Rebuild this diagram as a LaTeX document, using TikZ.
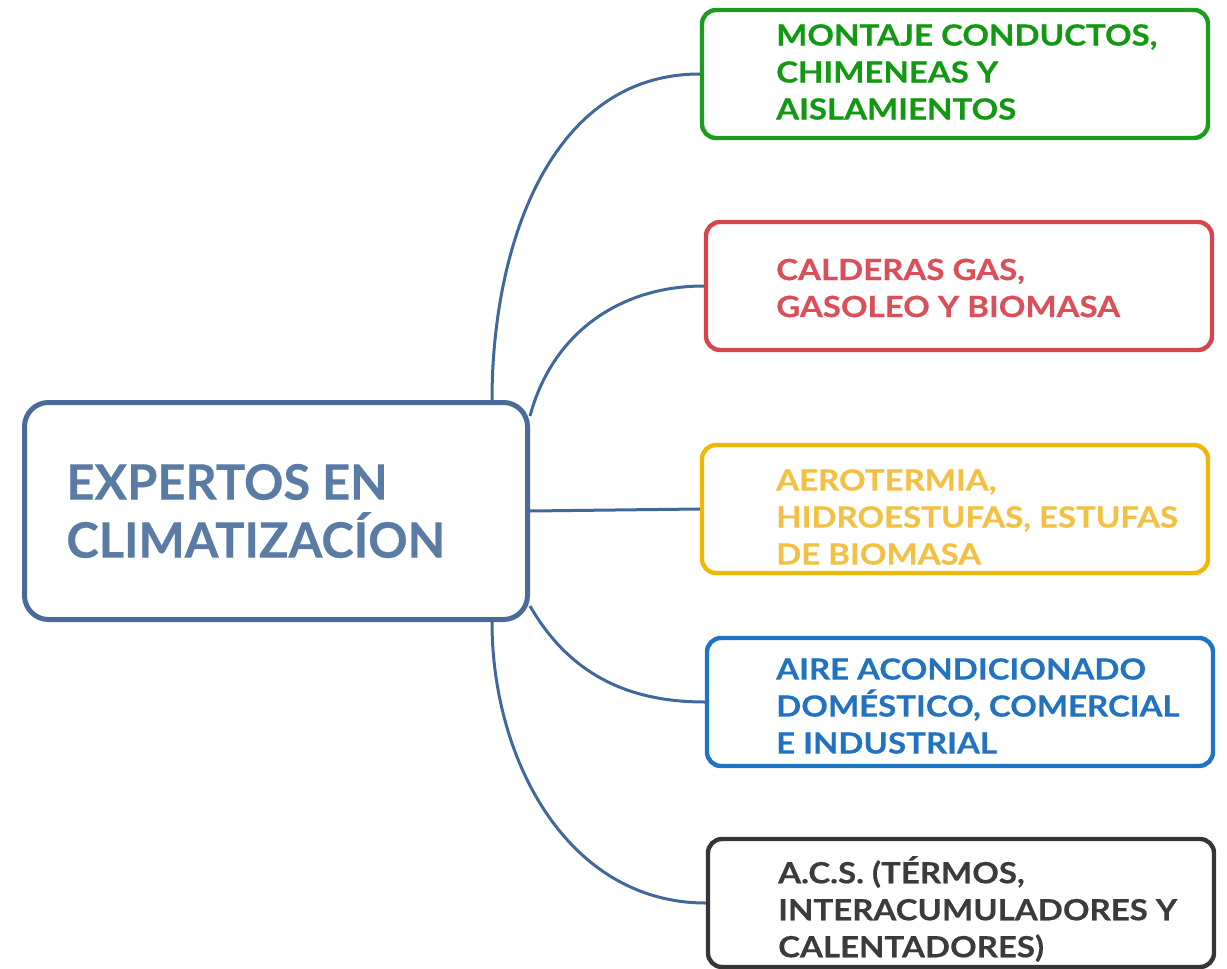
\documentclass[tikz,border=0pt]{standalone}
\usepackage{fontspec}
\setmainfont{Lato}[FakeBold=0.4]
\newfontfamily\cajafont{Lato}[FakeStretch=1.13, FakeBold=0.4]
\usetikzlibrary{positioning}

\definecolor{bordecentro}{HTML}{4A6A98}
\definecolor{textocentro}{HTML}{5A7BA3}
\definecolor{azulrama}{HTML}{41689A}
\definecolor{verdeB}{HTML}{1C9C1C}
\definecolor{verdeT}{HTML}{119911}
\definecolor{rojoB}{HTML}{D6454E}
\definecolor{rojoT}{HTML}{D9505A}
\definecolor{amarilloB}{HTML}{F2B705}
\definecolor{amarilloT}{HTML}{F2C043}
\definecolor{azulB}{HTML}{1C74C4}
\definecolor{azulT}{HTML}{2272C0}
\definecolor{negroB}{HTML}{363636}
\definecolor{negroT}{HTML}{3C3A3B}

\begin{document}
\begin{tikzpicture}[
    x=0.5pt, y=-0.5pt,
    centro/.style={rectangle, draw=bordecentro, line width=2.5pt, rounded corners=12pt, minimum width=251.5pt, minimum height=108.5pt},
    caja/.style={rectangle, line width=2.2pt, rounded corners=7pt, minimum width=253pt, minimum height=64pt},
    texto/.style={inner sep=0pt, align=left, font=\cajafont\fontsize{14.6}{18.5}\selectfont\bfseries},
    rama/.style={draw=azulrama, line width=1.5pt}
]
    \useasboundingbox (0,0) rectangle (1227,969);

    % Central node
    \node[centro] (expertos) at (276,511) {};
    \node[inner sep=0pt, align=left, text=textocentro, font=\fontsize{24.4}{29}\selectfont\bfseries,
          right=22pt of expertos.west] (titulo) {EXPERTOS EN\\CLIMATIZACÍON};

    % Service boxes
    \node[caja, draw=verdeB] (montaje) at (955,74) {};
    \node[caja, draw=rojoB] (calderas) at (959,286) {};
    \node[caja, draw=amarilloB] (aerotermia) at (955,509) {};
    \node[caja, draw=azulB] (aire) at (960,702) {};
    \node[caja, draw=negroB] (acs) at (961,903) {};

    % Box texts
    \node[texto, text=verdeT, right=38pt of montaje.west, yshift=1pt] (tmontaje) {MONTAJE CONDUCTOS,\\CHIMENEAS Y\\AISLAMIENTOS};
    \node[texto, text=rojoT, right=36pt of calderas.west, yshift=-1pt] (tcalderas) {CALDERAS GAS,\\GASOLEO Y BIOMASA};
    \node[texto, text=amarilloT, right=38pt of aerotermia.west, yshift=-4pt] (taerotermia) {AEROTERMIA,\\HIDROESTUFAS, ESTUFAS\\DE BIOMASA};
    \node[texto, text=azulT, right=35.5pt of aire.west, yshift=-2pt] (taire) {AIRE ACONDICIONADO\\DOMÉSTICO, COMERCIAL\\E INDUSTRIAL};
    \node[texto, text=negroT, right=36pt of acs.west, yshift=-3pt] (tacs) {A.C.S. (TÉRMOS,\\INTERACUMULADORES Y\\CALENTADORES)};

    % Branches
    \draw[rama] ([xshift=-19pt]expertos.north east) to[out=90, in=180] (montaje.west);
    \draw[rama] ([yshift=-8pt]expertos.north east) to[out=75, in=180] (calderas.west);
    \draw[rama] (expertos.east) -- (aerotermia.west);
    \draw[rama] ([yshift=8pt]expertos.south east) to[out=-60, in=180] (aire.west);
    \draw[rama] ([xshift=-19pt]expertos.south east) to[out=-90, in=180] (acs.west);
\end{tikzpicture}
\end{document}
